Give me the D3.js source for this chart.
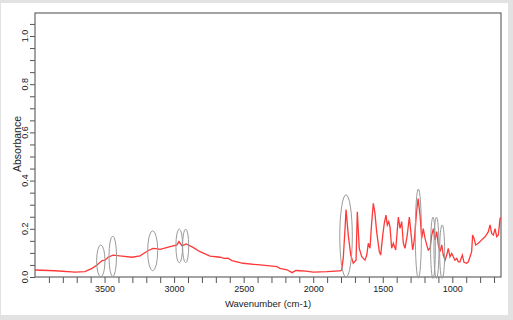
<!DOCTYPE html>
<html>
<head>
<meta charset="utf-8">
<script src="https://cdn.jsdelivr.net/npm/d3@7/dist/d3.min.js"></script>
<style>
  body { margin: 0; background: #e2e2e2; }
  svg { display: block; }
  .tick text { font: 9px "Liberation Sans", Arial, sans-serif; fill: #222; }
  .lbl { font: 9px "Liberation Sans", Arial, sans-serif; fill: #222; }
</style>
</head>
<body>
<div id="chart"></div>
<script>
// spectrum
const wavenumber = [4000, 3856, 3712, 3641, 3590, 3554, 3518, 3497, 3475, 3439, 3375, 3303, 3245, 3188, 3152, 3130, 3100,
  3029, 2979, 2965, 2943, 2914, 2864, 2814, 2742, 2700, 2670, 2640, 2613, 2584, 2505, 2382, 2260, 2239, 2188, 2152, 2124, 2095,
  2052, 2001, 1951, 1901, 1843, 1807, 1795, 1784, 1771, 1764, 1748, 1730, 1712, 1692, 1683, 1669, 1651, 1628, 1615,
  1604, 1592, 1579, 1568, 1556, 1544, 1525, 1515, 1500, 1489, 1477, 1467, 1457, 1448, 1436, 1424, 1407, 1388, 1376,
  1364, 1352, 1340, 1324, 1309, 1297, 1285, 1275, 1268, 1257, 1246, 1232, 1220, 1209, 1196, 1184, 1173, 1160, 1148,
  1136, 1124, 1112, 1101, 1088, 1076, 1065, 1052, 1040, 1029, 1017, 1004, 993, 981, 968, 957, 945, 928, 916, 897,
  885, 873, 861, 854, 844, 832, 813, 789, 765, 741, 729, 717, 705, 693, 681, 669, 657, 650];
const absorbance = [0.029, 0.026, 0.020, 0.022, 0.036, 0.050, 0.068, 0.070, 0.082, 0.091, 0.087, 0.082, 0.088, 0.109, 0.119, 0.118, 0.115,
  0.126, 0.133, 0.147, 0.129, 0.137, 0.123, 0.105, 0.087, 0.084, 0.082, 0.077, 0.078, 0.068, 0.057, 0.050, 0.043, 0.036, 0.030, 0.018, 0.027, 0.026,
  0.024, 0.020, 0.021, 0.022, 0.024, 0.025, 0.029, 0.078, 0.202, 0.280, 0.174, 0.091, 0.057, 0.070, 0.271, 0.119, 0.084, 0.070, 0.091,
  0.140, 0.119, 0.230, 0.306, 0.264, 0.188, 0.105, 0.091, 0.174, 0.223, 0.257, 0.216, 0.230, 0.208, 0.119, 0.140, 0.112, 0.249, 0.202,
  0.230, 0.140, 0.119, 0.174, 0.249, 0.181, 0.112, 0.146, 0.190, 0.270, 0.325, 0.257, 0.160, 0.201, 0.160, 0.133, 0.112, 0.119, 0.174,
  0.201, 0.154, 0.188, 0.133, 0.105, 0.133, 0.091, 0.070, 0.091, 0.119, 0.084, 0.098, 0.084, 0.070, 0.077, 0.063, 0.063, 0.091, 0.061, 0.057,
  0.063, 0.084, 0.105, 0.174, 0.160, 0.133, 0.140, 0.154, 0.167, 0.188, 0.216, 0.181, 0.174, 0.201, 0.167, 0.174, 0.243, 0.245];

// marked bands: centre wavenumber, centre absorbance, half width (cm-1), half height
const bandCentre = [3527, 3441, 3154, 2963, 2917, 1764, 1244, 1139, 1114, 1073];
const bandLevel  = [0.067, 0.086, 0.109, 0.129, 0.129, 0.170, 0.180, 0.121, 0.121, 0.105];
const bandWidth  = [30, 27, 36, 24, 22, 45, 22, 17, 18, 18];
const bandHeight = [0.066, 0.084, 0.083, 0.070, 0.070, 0.171, 0.185, 0.127, 0.127, 0.111];

const xMajor = [3500, 3000, 2500, 2000, 1500, 1000];
const yMajor = [0, 0.2, 0.4, 0.6, 0.8, 1.0];

const W = 513, H = 320;
const m = {left: 35, right: 501, top: 13, bottom: 277};

const svg = d3.select("#chart").append("svg").attr("width", W).attr("height", H);
svg.append("rect").attr("x", 1).attr("y", 3).attr("width", 507).attr("height", 312).attr("fill", "#fff");

const x = d3.scaleLinear().domain([4000, 650]).range([m.left, m.right]);
const y = d3.scaleLinear().domain([0, 1.1]).range([m.bottom, m.bottom - 241 * 1.1]);

// x axis
const xa = svg.append("g").attr("transform", "translate(0," + m.bottom + ")")
  .call(d3.axisBottom(x).tickValues(d3.range(700, 4000, 100)).tickSize(6).tickPadding(3)
    .tickFormat(d => xMajor.includes(d) ? d : ""));
xa.select(".domain").remove();
xa.selectAll("line").attr("stroke", "#555");

// y axis
const ya = svg.append("g").attr("transform", "translate(" + m.left + ",0)")
  .call(d3.axisLeft(y).tickValues(d3.range(0, 1.07, 0.05)).tickSize(5).tickFormat(""));
ya.select(".domain").remove();
ya.selectAll("line").attr("stroke", "#555");

svg.selectAll(".ylab").data(yMajor).enter().append("text")
  .attr("class", "lbl")
  .attr("transform", d => "translate(25," + y(d) + ") rotate(-90)")
  .attr("text-anchor", "middle").attr("dy", "0.35em")
  .text(d3.format(".1f"));

// frame
svg.append("rect").attr("x", m.left).attr("y", m.top)
  .attr("width", m.right - m.left).attr("height", m.bottom - m.top)
  .attr("fill", "none").attr("stroke", "#666").attr("stroke-width", 1.2);

// titles
svg.append("text").attr("class", "lbl").attr("x", 268).attr("y", 304)
  .attr("text-anchor", "middle").attr("dy", "0.35em").style("font-size", "9.5px")
  .text("Wavenumber (cm-1)");
svg.append("text").attr("class", "lbl")
  .attr("transform", "translate(17,144) rotate(-90)")
  .attr("text-anchor", "middle").attr("dy", "0.35em").style("font-size", "10.5px")
  .text("Absorbance");

// spectrum
const pts = wavenumber.map((w, i) => [w, absorbance[i]]);
svg.append("path").datum(pts)
  .attr("fill", "none").attr("stroke", "#ff3838").attr("stroke-width", 1.3)
  .attr("d", d3.line().x(d => x(d[0])).y(d => y(d[1])));

// band ellipses
const bands = bandCentre.map((c, i) => ({c: c, a: bandLevel[i], w: bandWidth[i], h: bandHeight[i]}));
svg.selectAll(".band").data(bands).enter().append("ellipse")
  .attr("cx", d => x(d.c)).attr("cy", d => y(d.a))
  .attr("rx", d => Math.abs(x(d.c - d.w) - x(d.c)))
  .attr("ry", d => Math.abs(y(d.a + d.h) - y(d.a)))
  .attr("fill", "none").attr("stroke", "#9a9a9a").attr("stroke-width", 1);
</script>
</body>
</html>
